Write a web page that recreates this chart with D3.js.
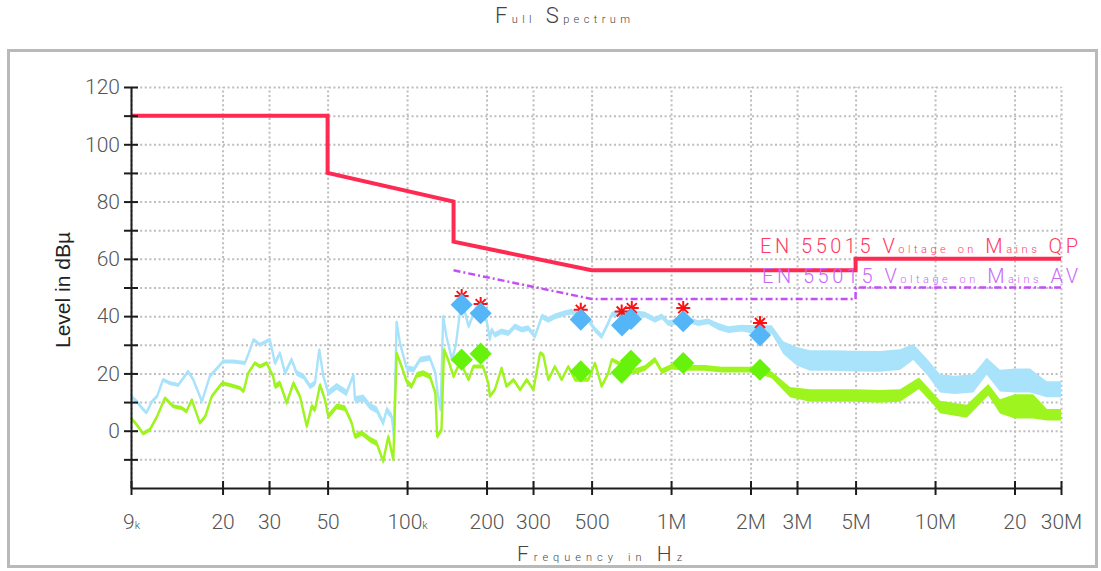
<!DOCTYPE html>
<html><head><meta charset="utf-8">
<script src="https://cdn.jsdelivr.net/npm/d3@7"></script>
<style>body{margin:0;background:#fff}svg{display:block}</style>
</head><body>
<svg id="c" width="1101" height="571"></svg>
<script>
// ---------- data ----------
const freqTicksKHz = [9,20,30,50,100,200,300,500,1000,2000,3000,5000,10000,20000,30000];
const freqTickLabels = ["9k","20","30","50","100k","200","300","500","1M","2M","3M","5M","10M","20","30M"];
const levelTicks = [-10,0,10,20,30,40,50,60,70,80,90,100,110,120];
const levelLabels = [0,20,40,60,80,100,120];
const gridLevels = [-10,0,10,20,30,40,50,60,70,80,90,100,110,120];

// limit lines (frequency in kHz, level in dBµV)
const qpLimitFreq = [9,50,50,150,150,500,5000,5000,30000];
const qpLimitLevel = [110,110,90,80,66,56,56,60,60];
const avLimitFreq = [150,500,5000,5000,30000];
const avLimitLevel = [56,46,46,50,50];

// peak trace (light blue)
const peakFreq = [9.0,9.46,9.88,10.3,10.8,11.3,11.9,12.6,13.6,14.8,15.5,16.7,17.9,20.1,22.0,24.3,25.0,26.2,27.7,29.4,30.2,31.6,33.0,34.5,36.5,38.2,40.5,42.9,44.8,46.5,48.2,50.3,54.1,59.0,62.6,63.5,68.3,72.4,76.7,81.2,83.7,87.5,89.2,91.3,94.0,99.6,106,112,122,128,131,134,137,141,148,153,159,164,171,181,200,206,209,215,228,242,256,272,288,305,324,343,363,397,420,486,515,546,578,596,631,730,797,869,922,976,1162,1268,1383,1510,1647,1852,2079,2406,2661,2992,3360,4000,5000,6184,7365,8270,9300,10440,11900,13950,15690,17610,20080,22890,26470,30000];
const peakLevel = [12,10.2,8.0,6.3,10.2,12,17.8,16.7,16,20.7,17.8,10.2,19,24.2,24.2,23.6,26.5,31.8,30,31.2,31.8,23.6,27.1,20.1,24.8,20.1,19,15.5,16.6,28.3,19,13.2,15.5,13.2,19.5,10.8,11.4,8.5,7.3,2.7,7.3,5,-2,38,30.6,21.9,21.3,24.8,25.4,20.1,12,7.3,39.9,32.9,24.8,30,42,43,36.4,42.2,38.7,31.8,35.3,33.5,34.7,34.1,36.4,35.3,35.8,32.9,39.9,38.7,39.9,41.1,41.6,38.7,35.3,32.9,37.6,40.5,41.1,41.1,40.5,38.7,39.9,37.6,38.7,37.6,38.2,36.4,35.3,35.8,35.3,35.3,29,26,24.5,24.5,24.3,24.2,24.8,27.5,22.4,16.5,16,16.5,22.5,17.5,17.5,17.5,14.5,14.5];
const peakSpread = [0.7,0.7,0.7,0.7,0.7,0.7,0.7,0.7,0.7,0.7,0.7,0.7,0.7,0.7,0.7,0.7,0.7,0.7,0.7,0.7,0.7,1,1,1,1,1,1,1,1,0.7,1,1.2,1.2,1.2,0.7,1.2,1.2,1.2,1.2,1.2,1.2,1.2,0.7,1,1,1,1,1,1,1,1,1,1,1,1,1,1,1,1,1,1,1,1,1,1,1,1,1,1,1,1,1,1,1,1,1,1,1,1,1,1,1,1,1,1,1,1,1,1,1.2,1.2,1.2,1.5,1.5,2.2,3.2,3.6,3.6,3.6,3.6,3.6,2.8,2.8,3.2,3.2,3.2,3,3.8,4.2,4.2,2.8,2.8];

// average trace (green)
const avgFreq = [9.0,9.46,10.0,10.6,11.3,12.1,13.0,14.0,14.6,15.3,16.4,17.2,18.2,19.9,21.3,23.3,24.0,25.0,26.5,27.7,29.4,30.2,31.1,31.6,33.0,35.0,37.1,39.3,41.7,43.5,44.8,46.8,48.9,50.3,54.1,58.2,61.7,63.5,67.3,72.4,76.7,81.2,84.9,88.7,91.3,95.4,99.6,104,109,115,122,128,130,135,138,143,150,159,171,178,194,203,206,215,228,238,253,268,284,301,319,328,343,363,385,408,433,486,515,546,578,596,730,797,869,922,1005,1162,1345,1555,1797,2079,2406,2822,3360,4000,4973,6184,7365,8690,9910,10440,13180,15910,17610,20080,23500,26540,30000];
const avgLevel = [4.4,2.1,-1.0,0.3,5,11.4,8.5,7.9,6.7,10.8,2.7,5,12,16.6,16,14.9,13.7,20.1,23.6,22.4,23.6,21.3,19,15.5,16.6,9.7,16.6,12,1.5,8.5,7.3,16,10.8,5,8.5,7.9,2.7,-2,-0.8,-3.1,-4.3,-10.7,-2,-10.1,27.1,22.4,17.2,15.5,19.5,20.1,19,13.2,-2,0.3,28.3,24.8,19,24,17.8,22.4,22.4,16.6,12,14.3,21.9,15.5,17.8,14.3,17.8,14.3,27.1,26.5,17.8,22.4,17.8,22.4,17.8,17.8,23.6,15.5,20.1,24.8,20.7,21.9,24.8,20.7,22.4,21.9,21.9,21.3,21.3,21.3,19.5,13.5,12.3,12.3,12.3,12,12.3,16.6,10.8,8.3,6.8,14.3,8.5,8.5,8.5,5.6,5.6];
const avgSpread = [0.7,0.7,0.7,0.7,0.7,0.7,0.7,0.7,0.7,0.7,0.7,0.7,0.7,0.7,0.7,0.7,0.7,0.7,0.7,0.7,0.7,0.7,1,1,1,1,1,1,1,1,1,1,1,1,1,1,1,1,1,1,1,1,1,1,1,1,1,1,1,1,1,1,1,1,1,1,1,0.7,0.7,0.7,0.7,0.7,0.7,0.7,0.7,0.7,0.7,0.7,0.7,0.7,0.7,0.7,0.7,0.7,0.7,0.7,0.7,0.7,0.7,0.7,0.7,0.7,1,1,1,1,1,1,1,1,1,1,1.2,1.8,2.2,2.2,2.2,2.2,2.2,2,2,2.2,2.3,2,2.5,4.2,4.2,2,2];

// final measurement markers
const peakMarkFreq = [161,190,455,652,705,1112,2172];
const peakMarkLevel = [44.0,41.0,38.8,36.8,39.0,38.2,33.3];
const avgMarkFreq = [161,190,455,650,705,1112,2172];
const avgMarkLevel = [24.8,26.9,20.7,20.3,24.4,23.6,21.3];
const qpMarkFreq = [161,190,455,650,710,1112,2172];
const qpMarkLevel = [47.0,44.2,42.2,41.6,42.8,42.8,37.6];

const titleText = "Full Spectrum";
const xTitle = "Frequency in Hz";
const yTitle = "Level in dBµ";
const qpLegend = "EN 55015 Voltage on Mains QP";
const avLegend = "EN 55015 Voltage on Mains AV";

// ---------- drawing ----------
const svg = d3.select("#c");
const x = d3.scaleLog().domain([9,30000]).range([131,1061]);
const y = d3.scaleLinear().domain([-20,120]).range([488,87]);
const FONT = "Roboto, 'Liberation Sans', Arial, sans-serif";

svg.append("rect").attr("x",8.5).attr("y",50.5).attr("width",1088).attr("height",516)
  .attr("fill","#fff").attr("stroke","#b9b9b9").attr("stroke-width",3);

function caseText(t, str, big, small){
  str.match(/[a-z]+|[^a-z]+/g).forEach(r=>{
    t.append("tspan").attr("font-size", /[a-z]/.test(r)?small:big).text(r);
  });
}

// grid
const gv = svg.append("g").attr("transform",`translate(0,${y(-20)})`)
  .call(d3.axisBottom(x).tickValues(freqTicksKHz).tickSize(-(y(-20)-y(120))).tickFormat(""));
gv.select(".domain").remove();
gv.selectAll("line").attr("stroke","#bdbdbd").attr("stroke-width",2).attr("stroke-dasharray","2,2.6");
const gh = svg.append("g").attr("transform",`translate(${x(9)},0)`)
  .call(d3.axisLeft(y).tickValues(gridLevels).tickSize(-(x(30000)-x(9))).tickFormat(""));
gh.select(".domain").remove();
gh.selectAll("line").attr("stroke","#bdbdbd").attr("stroke-width",2).attr("stroke-dasharray","2,2.6");

// traces
function drawTrace(fr, lv, sp, color){
  const data = fr.map((f,i)=>[f,lv[i],sp[i]]);
  svg.append("path").datum(data).attr("fill",color)
    .attr("d", d3.area().x(d=>x(d[0])).y0(d=>y(d[1]-d[2])).y1(d=>y(d[1]+d[2])));
  svg.append("path").datum(data).attr("fill","none").attr("stroke",color).attr("stroke-width",2.4)
    .attr("stroke-linejoin","round")
    .attr("d", d3.line().x(d=>x(d[0])).y(d=>y(d[1])));
}
drawTrace(peakFreq, peakLevel, peakSpread, "#a9e3fb");
drawTrace(avgFreq, avgLevel, avgSpread, "#9ef41e");

// limits
const lim = d3.line().x(d=>x(d[0])).y(d=>y(d[1]));
svg.append("path").datum(avLimitFreq.map((f,i)=>[f,avLimitLevel[i]]))
  .attr("fill","none").attr("stroke","#c44ff6").attr("stroke-width",2.5)
  .attr("stroke-dasharray","7,3,2,3").attr("d",lim);
svg.append("path").datum(qpLimitFreq.map((f,i)=>[f,qpLimitLevel[i]]))
  .attr("fill","none").attr("stroke","#ff2a52").attr("stroke-width",4).attr("d",lim);

// QP stars (under diamonds)
const r=7, dd=5;
const star = `M0,${-r}L0,${r}M${-r},0L${r},0M${-dd},${-dd}L${dd},${dd}M${-dd},${dd}L${dd},${-dd}`;
svg.append("g").selectAll("path").data(qpMarkFreq.map((f,i)=>[f,qpMarkLevel[i]])).join("path")
  .attr("d",star).attr("transform",d=>`translate(${x(d[0])},${y(d[1])})`)
  .attr("stroke","#ff1010").attr("stroke-width",2).attr("fill","none");

// diamonds
const diamond = d3.symbol(d3.symbolSquare, 245)();
svg.append("g").selectAll("path").data(peakMarkFreq.map((f,i)=>[f,peakMarkLevel[i]])).join("path")
  .attr("d",diamond).attr("transform",d=>`translate(${x(d[0])},${y(d[1])}) rotate(45)`)
  .attr("fill","#55b6f7");
svg.append("g").selectAll("path").data(avgMarkFreq.map((f,i)=>[f,avgMarkLevel[i]])).join("path")
  .attr("d",diamond).attr("transform",d=>`translate(${x(d[0])},${y(d[1])}) rotate(45)`)
  .attr("fill","#66f20a");

// axes
const ya = svg.append("g").attr("transform",`translate(${x(9)},0)`)
  .call(d3.axisLeft(y).tickValues(levelTicks).tickSize(7).tickSizeOuter(0).tickPadding(4)
    .tickFormat(d=>levelLabels.includes(d)?d:""));
ya.select(".domain").attr("stroke","#1c1c1c").attr("stroke-width",2);
ya.selectAll(".tick line").attr("x1",7).attr("stroke","#1c1c1c").attr("stroke-width",2);
ya.selectAll(".tick text").attr("font-family",FONT).attr("font-weight",300)
  .attr("font-size",21).attr("fill","#555");

const xa = svg.append("g").attr("transform",`translate(0,${y(-20)})`)
  .call(d3.axisBottom(x).tickValues(freqTicksKHz).tickSize(7).tickSizeOuter(0).tickFormat(""));
xa.select(".domain").attr("stroke","#1c1c1c").attr("stroke-width",2);
xa.selectAll(".tick line").attr("y1",-7).attr("stroke","#1c1c1c").attr("stroke-width",2);
xa.selectAll(".tick text").each(function(d,i){
  const t = d3.select(this).attr("y",41).attr("dy",0).attr("font-family",FONT)
    .attr("font-weight",300).attr("fill","#555").attr("text-anchor","middle");
  caseText(t, freqTickLabels[i], 21, 11);
});

// titles
const tt = svg.append("text").attr("x",495).attr("y",23).attr("textLength",135)
  .attr("lengthAdjust","spacing").attr("font-family",FONT).attr("font-weight",300).attr("fill","#444");
caseText(tt, titleText, 22, 11);

const xt = svg.append("text").attr("x",517).attr("y",561).attr("textLength",165)
  .attr("lengthAdjust","spacing").attr("font-family",FONT).attr("font-weight",300).attr("fill","#444");
caseText(xt, xTitle, 21, 11);

svg.append("text").attr("transform","translate(70,290) rotate(-90)").attr("text-anchor","middle")
  .attr("font-family","'Liberation Sans', Arial, sans-serif").attr("font-size",21).attr("fill","#222")
  .text(yTitle);

// legend labels
const lq = svg.append("text").attr("x",760).attr("y",253).attr("textLength",318)
  .attr("lengthAdjust","spacing").attr("font-family",FONT).attr("font-weight",300).attr("fill","#ff3a62");
caseText(lq, qpLegend, 20, 11);
const la = svg.append("text").attr("x",762).attr("y",283).attr("textLength",316)
  .attr("lengthAdjust","spacing").attr("font-family",FONT).attr("font-weight",300).attr("fill","#c86af8");
caseText(la, avLegend, 20, 11);
</script>
</body></html>
